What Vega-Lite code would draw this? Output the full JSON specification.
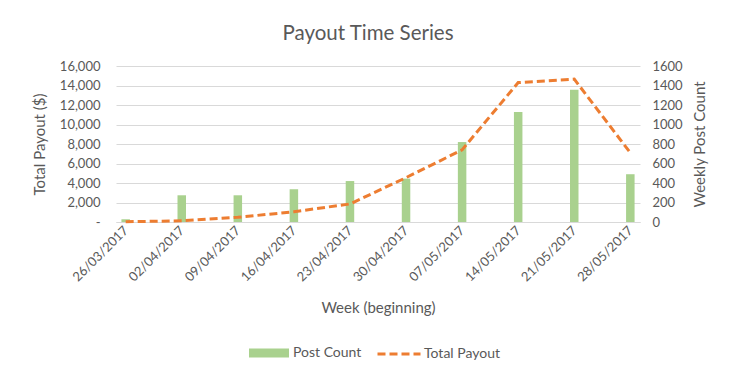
{
  "$schema": "https://vega.github.io/schema/vega-lite/v6.json",
  "autosize": {"type": "none"},
  "width": 524,
  "height": 156,
  "padding": {"left": 116, "top": 66, "right": 99, "bottom": 161},
  "background": "white",
  "title": {"text": "Payout Time Series", "fontSize": 20.5, "font": "Lato", "fontWeight": "normal", "color": "#595959", "anchor": "middle", "offset": 16, "dx": -10},
  "data": {"values": [
    {"week": "2017-03-26", "posts": 28, "payout": 30},
    {"week": "2017-04-02", "posts": 274, "payout": 120},
    {"week": "2017-04-09", "posts": 274, "payout": 480},
    {"week": "2017-04-16", "posts": 336, "payout": 1050},
    {"week": "2017-04-23", "posts": 420, "payout": 1850},
    {"week": "2017-04-30", "posts": 445, "payout": 4550},
    {"week": "2017-05-07", "posts": 820, "payout": 7400},
    {"week": "2017-05-14", "posts": 1127, "payout": 14300},
    {"week": "2017-05-21", "posts": 1357, "payout": 14650},
    {"week": "2017-05-28", "posts": 490, "payout": 7100}
  ]},
  "encoding": {
    "x": {
      "field": "week", "type": "temporal",
      "scale": {"type": "utc", "domain": [{"year": 2017, "month": 3, "date": 25, "hours": 10, "utc": true}, {"year": 2017, "month": 5, "date": 28, "hours": 14, "utc": true}]},
      "axis": {
        "title": "Week (beginning)",
        "values": [
          {"year": 2017, "month": 3, "date": 26, "utc": true},
          {"year": 2017, "month": 4, "date": 2, "utc": true},
          {"year": 2017, "month": 4, "date": 9, "utc": true},
          {"year": 2017, "month": 4, "date": 16, "utc": true},
          {"year": 2017, "month": 4, "date": 23, "utc": true},
          {"year": 2017, "month": 4, "date": 30, "utc": true},
          {"year": 2017, "month": 5, "date": 7, "utc": true},
          {"year": 2017, "month": 5, "date": 14, "utc": true},
          {"year": 2017, "month": 5, "date": 21, "utc": true},
          {"year": 2017, "month": 5, "date": 28, "utc": true}
        ],
        "labelExpr": "utcFormat(datum.value, '%d/%m/%Y')",
        "labelAngle": -45,
        "labelAlign": "right",
        "labelBaseline": "middle",
        "labelPadding": 6,
        "labelOverlap": false,
        "labelBound": false,
        "labelFlush": false,
        "ticks": false,
        "grid": false,
        "domain": true,
        "domainColor": "#D9D9D9",
        "titlePadding": 17
      }
    }
  },
  "layer": [
    {
      "mark": {"type": "bar", "width": 8.5},
      "encoding": {
        "y": {"field": "posts", "type": "quantitative", "scale": {"domain": [0, 1600]},
          "axis": {"orient": "right", "title": "Weekly Post Count", "titleAngle": 270, "titleBaseline": "top", "values": [0, 200, 400, 600, 800, 1000, 1200, 1400, 1600], "format": "d", "grid": false, "ticks": false, "domain": false, "labelPadding": 12, "titlePadding": 10}},
        "fill": {"datum": "Post Count", "scale": {"range": ["#A9D18E"]},
          "legend": {"title": null, "symbolType": "M-1,-0.22H1V0.22H-1Z", "symbolSize": 1600, "symbolStrokeWidth": 0, "labelOffset": 4, "orient": "none", "legendX": 133, "legendY": 267}}
      }
    },
    {
      "mark": {"type": "line", "strokeWidth": 3, "strokeDash": [8, 4]},
      "encoding": {
        "y": {"field": "payout", "type": "quantitative", "scale": {"domain": [0, 16000]},
          "axis": {"orient": "left", "title": "Total Payout ($)", "values": [0, 2000, 4000, 6000, 8000, 10000, 12000, 14000, 16000], "labelExpr": "datum.value == 0 ? '-' : format(datum.value, ',')", "grid": true, "gridColor": "#D9D9D9", "ticks": false, "domain": false, "labelPadding": 16, "titlePadding": 12}},
        "stroke": {"datum": "Total Payout", "scale": {"range": ["#ED7D31"]},
          "legend": {"title": null, "symbolType": "stroke", "symbolSize": 1849, "symbolStrokeWidth": 3, "symbolDash": [8, 4], "labelOffset": 2, "orient": "none", "legendX": 260, "legendY": 265}}
      }
    }
  ],
  "resolve": {"scale": {"y": "independent"}},
  "config": {
    "view": {"stroke": null},
    "font": "Lato",
    "axis": {"labelFont": "Lato", "labelFontSize": 13, "labelColor": "#595959", "titleFont": "Lato", "titleFontSize": 15, "titleFontWeight": "normal", "titleColor": "#595959"},
    "legend": {"labelFont": "Lato", "labelFontSize": 14, "labelColor": "#595959"}
  }
}
